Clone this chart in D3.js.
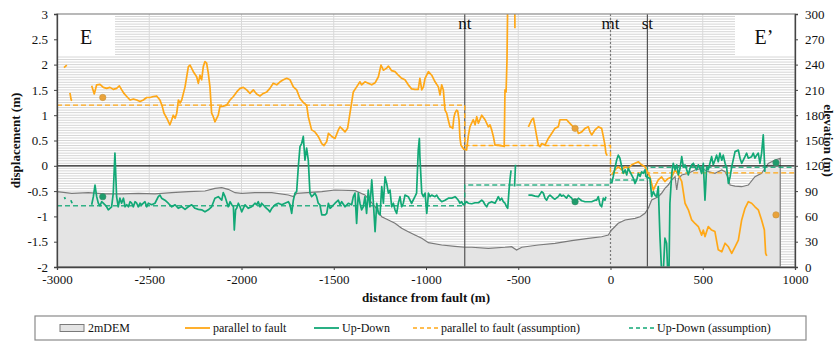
<!DOCTYPE html>
<html>
<head>
<meta charset="utf-8">
<script src="https://cdn.jsdelivr.net/npm/d3@7"></script>
<style>
  html, body { margin: 0; padding: 0; background: #fff; }
  svg text { font-family: "Liberation Serif", "Times New Roman", serif; fill: #111; }
</style>
</head>
<body>
<svg id="chart" width="836" height="344"></svg>
<script>
// ---- data -------------------------------------------------------------
const xTicks = [-3000, -2500, -2000, -1500, -1000, -500, 0, 500, 1000];
const dispTicks = [-2, -1.5, -1, -0.5, 0, 0.5, 1, 1.5, 2, 2.5, 3];
const elevTicks = [0, 30, 60, 90, 120, 150, 180, 210, 240, 270, 300];

// fault traces (distance from fault, m)
const faults = [
  { name: "nt", x: -790, dotted: false },
  { name: "mt", x: 0, dotted: true },
  { name: "st", x: 200, dotted: false }
];

// 2 m DEM elevation profile [distance, elevation m]
const dem = [[-3000,89.3],[-2920,87.4],[-2830,88.1],[-2740,86.6],[-2649,86.6],[-2559,87.4],[-2469,86.6],[-2378,88.1],[-2288,89.3],[-2198,90.1],[-2144,93.3],[-2107,94.1],[-2072,92.1],[-2035,88.1],[-1999,87.4],[-1927,88.1],[-1836,88.1],[-1746,85.4],[-1719,83.4],[-1701,87.4],[-1565,89.3],[-1493,91.3],[-1385,90.5],[-1331,85.4],[-1276,71.5],[-1240,59.6],[-1204,55.7],[-1168,51.8],[-1132,45.9],[-1096,41.9],[-1060,37.9],[-1023,34.0],[-987,28.8],[-915,26.1],[-843,24.5],[-789,23.4],[-752,23.4],[-662,22.2],[-572,23.4],[-536,24.1],[-509,20.2],[-481,23.4],[-391,26.1],[-301,28.1],[-210,31.2],[-120,34.0],[-48,35.9],[-12,37.9],[6,43.9],[42,51.8],[79,55.7],[133,57.7],[160,59.6],[187,63.7],[205,69.6],[223,79.4],[259,83.4],[277,87.4],[295,93.3],[313,97.2],[332,103.2],[350,107.1],[359,91.3],[368,104.9],[386,109.1],[422,111.1],[458,115.0],[494,117.0],[530,113.0],[566,111.1],[603,115.0],[621,113.0],[639,105.2],[648,97.2],[675,96.0],[711,95.2],[747,97.2],[783,107.1],[819,111.1],[855,122.9],[892,126.9],[920,128.9]];

// displacement parallel to fault [distance, m]; null = gap
const parallel = [
  [-2962,1.94],[-2947,1.99], null,
  [-2930,1.44],[-2923,1.30],[-2918,1.29], null,
  [-2812,1.58],[-2798,1.42],[-2785,1.60],[-2767,1.61],[-2749,1.55],[-2731,1.53],[-2713,1.55],[-2695,1.51],[-2677,1.53],[-2662,1.58],[-2649,1.50],[-2637,1.43],[-2622,1.37],[-2604,1.30],[-2586,1.32],[-2568,1.30],[-2550,1.27],[-2532,1.30],[-2514,1.35],[-2496,1.35],[-2478,1.37],[-2460,1.38],[-2442,1.30],[-2429,1.17],[-2420,1.04],[-2405,0.94],[-2388,0.81],[-2378,0.91],[-2370,1.00],[-2360,0.94],[-2351,1.04],[-2342,1.30],[-2333,1.24],[-2324,1.30],[-2306,1.56],[-2288,1.96],[-2279,1.99],[-2261,1.86],[-2243,1.76],[-2234,1.63],[-2225,1.79],[-2216,1.70],[-2207,1.96],[-2198,2.06],[-2189,2.03],[-2180,1.83],[-2171,1.56],[-2162,1.04],[-2153,0.97],[-2144,0.87],[-2126,1.00],[-2117,1.17],[-2099,1.18],[-2080,1.20],[-2062,1.30],[-2044,1.37],[-2026,1.46],[-2008,1.53],[-1990,1.55],[-1972,1.50],[-1954,1.43],[-1936,1.50],[-1918,1.42],[-1900,1.38],[-1882,1.43],[-1863,1.46],[-1846,1.53],[-1828,1.63],[-1809,1.60],[-1791,1.66],[-1773,1.70],[-1755,1.73],[-1737,1.70],[-1719,1.56],[-1701,1.50],[-1683,1.33],[-1665,1.25],[-1647,1.20],[-1638,0.97],[-1620,0.71],[-1602,0.67],[-1584,0.58],[-1565,0.44],[-1553,0.40],[-1538,0.48],[-1529,0.64],[-1511,0.58],[-1493,0.54],[-1475,0.71],[-1466,0.77],[-1457,0.74],[-1439,0.67],[-1425,0.74],[-1412,1.04],[-1394,1.46],[-1376,1.56],[-1358,1.66],[-1349,1.60],[-1331,1.66],[-1313,1.63],[-1294,1.60],[-1276,1.64],[-1258,1.76],[-1244,1.99],[-1231,1.89],[-1213,1.93],[-1204,1.97],[-1186,1.88],[-1168,1.86],[-1150,1.79],[-1132,1.73],[-1114,1.70],[-1096,1.60],[-1078,1.52],[-1060,1.51],[-1042,1.51],[-1033,1.73],[-1023,1.50],[-1014,1.56],[-1005,1.73],[-987,1.86],[-969,1.79],[-951,1.66],[-933,1.56],[-924,1.40],[-915,1.60],[-906,1.50],[-897,1.10],[-888,1.04],[-879,0.90],[-870,0.77],[-861,0.76],[-855,0.74],[-849,0.95],[-843,1.04],[-834,1.10],[-828,1.08],[-821,0.91],[-816,0.55],[-810,0.40],[-795,0.33],[-785,0.32],[-780,0.31],[-771,0.58],[-762,0.77],[-744,0.91],[-734,0.81],[-725,0.97],[-716,0.84],[-698,1.00],[-680,0.91],[-662,0.77],[-653,0.81],[-644,0.71],[-635,0.58],[-626,0.41],[-608,0.41],[-581,0.39],[-576,0.38],[-572,1.50],[-566,1.46],[-561,2.09],[-557,3.3], null,
  [-519,3.3],[-518,2.72], null,
  [-445,0.77],[-427,0.91],[-418,0.94],[-409,0.77],[-400,0.58],[-391,0.41],[-382,0.38],[-373,0.44],[-355,0.41],[-337,0.54],[-319,0.64],[-301,0.74],[-283,0.77],[-274,0.91],[-256,0.91],[-238,0.91],[-220,0.84],[-202,0.77],[-183,0.74],[-174,0.64],[-156,0.67],[-138,0.74],[-120,0.77],[-111,0.67],[-102,0.61],[-84,0.71],[-66,0.77],[-48,0.74],[-39,0.58],[-30,0.41],[-25,0.25],[-18,0.20], null,
  [6,-0.18],[24,-0.08],[42,-0.02],[61,-0.08],[79,-0.02],[97,-0.05],[115,0.02],[133,0.05],[151,0.08],[160,0.05],[169,0.02],[187,-0.02],[214,-0.22],[232,-0.48],[241,-0.41],[259,-0.28],[277,-0.22],[295,-0.31],[313,-0.25],[332,-0.22],[350,-0.08],[368,-0.18],[386,-0.31],[404,-0.74],[422,-0.87],[440,-1.07],[458,-1.14],[476,-1.20],[494,-1.37],[503,-1.27],[512,-1.40],[530,-1.20],[548,-1.27],[566,-1.30],[584,-1.66],[603,-1.70],[621,-1.53],[639,-1.60],[657,-1.73],[675,-1.60],[693,-1.47],[711,-1.07],[729,-0.84],[747,-0.71],[765,-0.74],[783,-0.81],[801,-0.87],[819,-1.07],[834,-1.27],[841,-1.73],[847,-1.78]
];

// vertical (up-down) displacement [distance, m]; null = gap
const upDown = [
  [-2960,-0.62],[-2955,-0.66], null,
  [-2925,-0.68],[-2918,-0.74], null,
  [-2812,-0.77],[-2803,-0.61],[-2794,-0.38],[-2785,-0.61],[-2776,-0.74],[-2767,-0.79],[-2758,-0.71],[-2749,-0.74],[-2740,-0.77],[-2731,-0.81],[-2722,-0.87],[-2713,-0.84],[-2704,-0.81],[-2695,-0.54],[-2686,0.25],[-2677,-0.61],[-2668,-0.81],[-2659,-0.64],[-2650,-0.74],[-2640,-0.64],[-2631,-0.81],[-2622,-0.77],[-2613,-0.81],[-2604,-0.71],[-2595,-0.74],[-2586,-0.81],[-2577,-0.71],[-2568,-0.74],[-2559,-0.81],[-2550,-0.74],[-2541,-0.77],[-2532,-0.74],[-2523,-0.71],[-2514,-0.81],[-2505,-0.74],[-2487,-0.77],[-2469,-0.74],[-2451,-0.61],[-2442,-0.58],[-2433,-0.64],[-2415,-0.68],[-2397,-0.74],[-2378,-0.81],[-2360,-0.77],[-2343,-0.84],[-2324,-0.81],[-2306,-0.86],[-2288,-0.81],[-2270,-0.77],[-2252,-0.84],[-2234,-0.86],[-2216,-0.87],[-2198,-0.91],[-2180,-0.87],[-2162,-0.81],[-2144,-0.64],[-2126,-0.61],[-2107,-0.68],[-2099,-0.53],[-2089,-0.61],[-2072,-0.81],[-2062,-0.71],[-2053,-0.77],[-2044,-0.81],[-2039,-1.27],[-2032,-0.87],[-2026,-0.84],[-2017,-0.74],[-2008,-0.81],[-1999,-0.91],[-1981,-0.77],[-1963,-0.84],[-1945,-0.81],[-1927,-0.74],[-1918,-0.77],[-1909,-0.71],[-1900,-0.81],[-1891,-0.74],[-1873,-0.81],[-1855,-0.87],[-1846,-0.91],[-1836,-0.84],[-1818,-0.77],[-1800,-0.74],[-1782,-0.77],[-1764,-0.74],[-1746,-0.71],[-1737,-0.77],[-1728,-0.94],[-1719,-0.68],[-1710,-0.54],[-1701,-0.51],[-1692,-0.02],[-1683,0.38],[-1674,0.44],[-1665,0.58],[-1656,0.11],[-1647,0.35],[-1638,0.11],[-1629,-0.54],[-1620,-0.61],[-1611,-0.58],[-1602,-0.54],[-1593,-0.61],[-1584,-0.74],[-1575,-0.77],[-1565,-0.97],[-1547,-0.97],[-1538,-0.94],[-1529,-0.74],[-1520,-0.84],[-1511,-0.81],[-1493,-0.74],[-1475,-0.68],[-1466,-0.77],[-1457,-0.71],[-1439,-0.81],[-1421,-0.74],[-1403,-0.77],[-1394,-0.61],[-1385,-0.54],[-1376,-1.14],[-1367,-0.54],[-1358,-0.74],[-1349,-0.87],[-1340,-0.81],[-1331,-0.61],[-1322,-0.94],[-1313,-0.48],[-1304,-0.81],[-1294,-0.28],[-1286,-0.68],[-1276,-1.30],[-1267,-0.74],[-1258,-0.94],[-1249,-0.97],[-1240,-0.41],[-1231,-0.74],[-1222,-0.22],[-1213,-0.35],[-1204,-0.54],[-1195,-0.48],[-1186,-0.81],[-1177,-0.74],[-1168,-0.87],[-1159,-0.94],[-1150,-0.74],[-1141,-0.61],[-1132,-0.81],[-1123,-0.74],[-1114,-0.58],[-1096,-0.61],[-1078,-0.74],[-1060,-0.61],[-1051,-0.54],[-1042,0.31],[-1036,0.54],[-1033,0.18],[-1023,-0.54],[-1014,-0.61],[-1005,-0.54],[-996,-0.94],[-991,-0.74],[-987,-0.54],[-978,-0.61],[-969,-0.58],[-951,-0.61],[-942,-0.58],[-933,-0.64],[-915,-0.71],[-897,-0.68],[-879,-0.64],[-861,-0.64],[-843,-0.61],[-834,-0.64],[-825,-0.68],[-816,-0.74],[-807,-0.71],[-798,-0.77],[-780,-0.71],[-771,-0.74],[-752,-0.75],[-734,-0.73],[-716,-0.73],[-698,-0.68],[-689,-0.71],[-680,-0.77],[-671,-0.81],[-662,-0.74],[-644,-0.71],[-626,-0.74],[-617,-0.68],[-608,-0.61],[-599,-0.68],[-590,-0.64],[-581,-0.71],[-572,-0.74],[-563,-0.81],[-557,-0.84],[-550,-0.48],[-545,-0.28],[-539,-0.09], null,
  [-520,-0.41],[-515,0.02], null,
  [-445,-0.58],[-427,-0.58],[-409,-0.60],[-391,-0.61],[-373,-0.51],[-364,-0.54],[-355,-0.64],[-346,-0.68],[-337,-0.61],[-328,-0.58],[-319,-0.61],[-310,-0.64],[-301,-0.66],[-283,-0.61],[-274,-0.56],[-265,-0.60],[-256,-0.58],[-247,-0.61],[-238,-0.64],[-229,-0.58],[-220,-0.61],[-210,-0.64],[-202,-0.71],[-192,-0.73],[-183,-0.68],[-174,-0.64],[-156,-0.69],[-138,-0.71],[-120,-0.71],[-102,-0.71],[-84,-0.68],[-75,-0.68],[-66,-0.61],[-57,-0.77],[-48,-0.81],[-39,-0.64],[-30,-0.68],[-25,-0.61], null,
  [6,-0.35],[15,-0.21],[33,0.11],[42,0.21],[51,0.15],[61,-0.02],[69,-0.15],[79,-0.08],[88,-0.18],[96,-0.05],[106,-0.12],[124,-0.25],[133,-0.35],[142,-0.28],[151,-0.15],[160,-0.21],[169,-0.12],[178,-0.15],[187,-0.08],[192,-0.21],[214,-0.25],[223,-0.61],[232,-0.51],[241,-0.58],[250,-0.61],[259,-0.41],[268,-1.40],[277,-2.1],[286,-2.1],[295,-1.43],[304,-1.53],[310,-2.1],[317,-2.1],[322,-0.74],[332,-0.15],[340,0.05],[350,-0.08],[359,0.02],[368,-0.18],[377,-0.05],[386,0.18],[395,-0.02],[404,0.02],[413,-0.08],[422,-0.18],[431,-0.05],[440,0.02],[449,0.05],[458,-0.02],[467,-0.08],[476,0.02],[485,-0.05],[494,-0.15],[503,0.05],[512,-0.68],[516,-0.41],[521,-0.02],[530,-0.08],[539,0.05],[548,0.18],[557,0.02],[566,0.11],[575,0.21],[584,0.08],[593,0.25],[603,0.11],[611,0.21],[621,0.05],[630,-0.05],[639,-0.35],[648,-0.22],[657,-0.02],[675,0.28],[693,0.31],[702,0.15],[711,0.05],[729,0.18],[738,0.25],[747,0.15],[765,0.18],[774,0.25],[783,0.15],[792,0.21],[801,0.25],[810,0.05],[819,0.25],[828,0.61],[837,-0.12]
];

// assumed displacement levels (step profiles)
const parallelAssumed = [[-3000,1.2],[-790,1.2],[-790,0.4],[0,0.4],[0,-0.14],[1000,-0.14]];
const upDownAssumed = [[-3000,-0.79],[-790,-0.79],[-790,-0.38],[0,-0.38],[0,-0.28],[200,-0.28],[200,-0.03],[1000,-0.03]];

// point measurements
const parallelPoints = [[-2752,1.35],[-192,0.74],[897,-0.97]];
const upDownPoints = [[-2752,-0.61],[-192,-0.71],[897,0.06]];

const legendItems = ["2mDEM", "parallel to fault", "Up-Down", "parallel to fault (assumption)", "Up-Down (assumption)"];

// ---- drawing ----------------------------------------------------------
const ORANGE = "#FFA817", GREEN = "#12A876";
const svg = d3.select("#chart");
const L = 57, R = 795, T = 14, B = 267;

const x = d3.scaleLinear().domain([-3000, 1000]).range([L, R]);
const y = d3.scaleLinear().domain([-2, 3]).range([B, T]);
const yE = d3.scaleLinear().domain([0, 300]).range([B, T]);

svg.append("defs").append("clipPath").attr("id", "plot")
  .append("rect").attr("x", L).attr("y", T).attr("width", R - L).attr("height", B - T);

const plot = svg.append("g").attr("clip-path", "url(#plot)");

// fine horizontal grid (every 3 m of elevation)
plot.append("g").selectAll("line")
  .data(d3.range(3, 300, 3))
  .join("line")
  .attr("x1", L).attr("x2", R)
  .attr("y1", d => yE(d)).attr("y2", d => yE(d))
  .attr("stroke", "#d6d6d6").attr("stroke-width", 1);

// vertical grid
plot.append("g").selectAll("line")
  .data(xTicks.slice(1, -1))
  .join("line")
  .attr("x1", d => x(d)).attr("x2", d => x(d))
  .attr("y1", T).attr("y2", B)
  .attr("stroke", "#d9d9d9").attr("stroke-width", 1);

// white label boxes for the profile ends
plot.append("rect").attr("x", L).attr("y", T).attr("width", 58).attr("height", 41).attr("fill", "#fff");
plot.append("rect").attr("x", R - 60).attr("y", T).attr("width", 60).attr("height", 41).attr("fill", "#fff");

// DEM profile
plot.append("path")
  .datum(dem)
  .attr("d", d3.area().x(d => x(d[0])).y0(yE(0)).y1(d => yE(d[1])))
  .attr("fill", "#e4e4e4").attr("stroke", "#7a7a7a").attr("stroke-width", 1.2);

// zero line
plot.append("line").attr("x1", L).attr("x2", R).attr("y1", y(0)).attr("y2", y(0))
  .attr("stroke", "#222").attr("stroke-width", 1.3);

// fault traces
faults.forEach(f => {
  plot.append("line")
    .attr("x1", x(f.x)).attr("x2", x(f.x)).attr("y1", T).attr("y2", B)
    .attr("stroke", f.dotted ? "#777" : "#555")
    .attr("stroke-width", 1.2)
    .attr("stroke-dasharray", f.dotted ? "2,2" : null);
});

const line = d3.line().defined(d => d !== null).x(d => x(d[0])).y(d => y(d[1]));

// assumption lines
plot.append("path").datum(parallelAssumed).attr("d", line)
  .attr("fill", "none").attr("stroke", ORANGE).attr("stroke-width", 1.4).attr("stroke-dasharray", "5,3");
plot.append("path").datum(upDownAssumed).attr("d", line)
  .attr("fill", "none").attr("stroke", GREEN).attr("stroke-width", 1.4).attr("stroke-dasharray", "5,3").attr("opacity", 0.85);

// measured profiles
plot.append("path").datum(parallel).attr("d", line)
  .attr("fill", "none").attr("stroke", ORANGE).attr("stroke-width", 1.7).attr("stroke-linejoin", "round");
plot.append("path").datum(upDown).attr("d", line)
  .attr("fill", "none").attr("stroke", GREEN).attr("stroke-width", 1.7).attr("stroke-linejoin", "round");

// point measurements
plot.append("g").selectAll("circle").data(parallelPoints).join("circle")
  .attr("cx", d => x(d[0])).attr("cy", d => y(d[1])).attr("r", 3.2)
  .attr("fill", "#E9A23A").attr("stroke", "#c8953f").attr("stroke-width", 0.6);
plot.append("g").selectAll("circle").data(upDownPoints).join("circle")
  .attr("cx", d => x(d[0])).attr("cy", d => y(d[1])).attr("r", 3.2)
  .attr("fill", "#1E9C6C").attr("stroke", "#3a8d6a").attr("stroke-width", 0.6);

// frame
svg.append("rect").attr("x", L).attr("y", T).attr("width", R - L).attr("height", B - T)
  .attr("fill", "none").attr("stroke", "#8a8a8a").attr("stroke-width", 1.2);

// axes
const fmt = d => String(d);
const gL = svg.append("g").attr("transform", `translate(${L},0)`)
  .call(d3.axisLeft(y).tickValues(dispTicks).tickFormat(fmt).tickSize(3).tickPadding(6));
const gR = svg.append("g").attr("transform", `translate(${R},0)`)
  .call(d3.axisRight(yE).tickValues(elevTicks).tickFormat(fmt).tickSize(3).tickPadding(7));
const gB = svg.append("g").attr("transform", `translate(0,${B})`)
  .call(d3.axisBottom(x).tickValues(xTicks).tickFormat(fmt).tickSize(3).tickPadding(5));
[gL, gR, gB].forEach(g => {
  g.select(".domain").attr("stroke", "#444").attr("stroke-width", 1.3);
  g.selectAll(".tick line").attr("stroke", "#444");
  g.selectAll(".tick text").attr("font-size", 13).attr("fill", "#111");
});

// axis titles
svg.append("text").attr("transform", `translate(20,${(T + B) / 2}) rotate(-90)`)
  .attr("text-anchor", "middle").attr("font-size", 13).attr("font-weight", "bold").text("displacement (m)");
svg.append("text").attr("transform", `translate(824,${(T + B) / 2}) rotate(90)`)
  .attr("text-anchor", "middle").attr("font-size", 13).attr("font-weight", "bold").text("elevation (m)");
svg.append("text").attr("x", (L + R) / 2).attr("y", 302)
  .attr("text-anchor", "middle").attr("font-size", 13).attr("font-weight", "bold").text("distance from fault (m)");

// fault labels
faults.forEach(f => {
  svg.append("text").attr("x", x(f.x)).attr("y", 29).attr("text-anchor", "middle")
    .attr("font-size", 17).text(f.name);
});

// profile end labels
svg.append("text").attr("x", 86).attr("y", 44).attr("text-anchor", "middle").attr("font-size", 20).text("E");
svg.append("text").attr("x", 764).attr("y", 44).attr("text-anchor", "middle").attr("font-size", 20).text("E\u2019");

// legend
const lg = svg.append("g");
const LX0 = 35, LX1 = 806, LY = 316, LH = 24;
lg.append("rect").attr("x", LX0).attr("y", LY).attr("width", LX1 - LX0).attr("height", LH)
  .attr("fill", "#fff").attr("stroke", "#8a8a8a").attr("stroke-width", 1.2);
const cy = LY + LH / 2;
const slots = [60, 185, 314, 413, 629];
slots.forEach((sx, i) => {
  if (i === 0) {
    lg.append("rect").attr("x", sx).attr("y", cy - 3.5).attr("width", 24).attr("height", 7)
      .attr("fill", "#e4e4e4").attr("stroke", "#7a7a7a").attr("stroke-width", 1);
  } else {
    const col = (i === 1 || i === 3) ? ORANGE : GREEN;
    lg.append("line").attr("x1", sx).attr("x2", sx + 25).attr("y1", cy).attr("y2", cy)
      .attr("stroke", col).attr("stroke-width", i < 3 ? 1.8 : 1.5)
      .attr("stroke-dasharray", i >= 3 ? "4,3" : null);
  }
  lg.append("text").attr("x", sx + 28).attr("y", cy + 4).attr("font-size", 12).text(legendItems[i]);
});
</script>
</body>
</html>
